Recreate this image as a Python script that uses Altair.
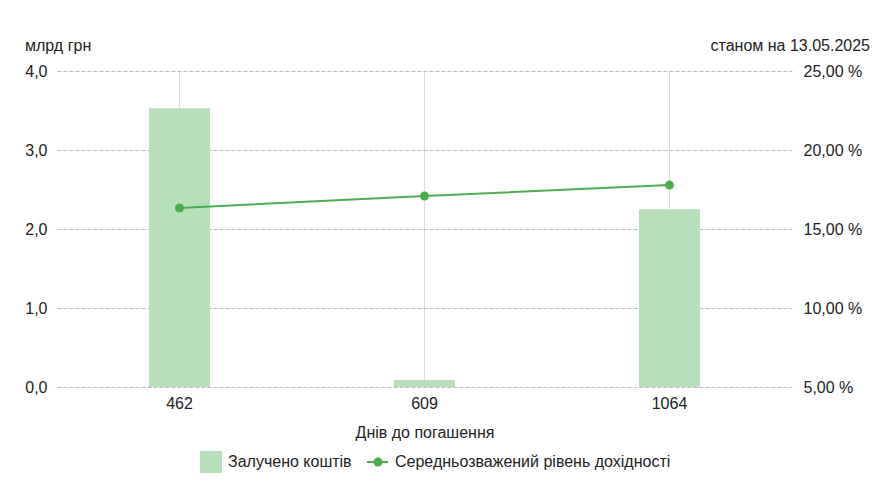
import altair as alt
import pandas as pd

days = ["462", "609", "1064"]
amount = [3.53, 0.09, 2.25]
rate = [16.33, 17.09, 17.78]

legend_bar = "Залучено коштів"
legend_line = "Середньозважений рівень дохідності"
unit_left = "млрд грн"
note_right = "станом на 13.05.2025"
x_title = "Днів до погашення"

df = pd.DataFrame({"days": days, "amount": amount, "rate": rate})

FONT = "Liberation Sans"
BAR = "#b7e0ba"
LINE = "#4aae4f"
TXT = "#222222"

x = alt.X("days:N", sort=days, title=x_title,
          scale=alt.Scale(paddingInner=0, paddingOuter=0),
          axis=alt.Axis(labelAngle=0, grid=True, gridColor="#dddddd", gridDash=[],
                        domain=False, ticks=False, labelPadding=8,
                        labelFontSize=16, labelColor=TXT, labelFont=FONT,
                        titleFontSize=16, titleFont=FONT, titleColor=TXT,
                        titleFontWeight="normal", titlePadding=13))

bars = alt.Chart(df).mark_bar(size=61, color=BAR).encode(
    x=x,
    y=alt.Y("amount:Q", title=None,
            scale=alt.Scale(domain=[0, 4], nice=False),
            axis=alt.Axis(orient="left", values=[0, 1, 2, 3, 4], grid=True,
                          gridColor="#bbbbbb", gridDash=[4, 2], domain=False, ticks=False,
                          labelPadding=10, labelFontSize=16, labelColor=TXT, labelFont=FONT,
                          labelExpr="replace(format(datum.value, '.1f'), '.', ',')")),
)

line_y = alt.Y("rate:Q", title=None,
               scale=alt.Scale(domain=[5, 25], nice=False),
               axis=alt.Axis(orient="right", values=[5, 10, 15, 20, 25], grid=False,
                             domain=False, ticks=False, labelPadding=11,
                             labelFontSize=16, labelColor=TXT, labelFont=FONT,
                             labelExpr="replace(format(datum.value, '.2f'), '.', ',') + ' %'"))

line = alt.Chart(df).mark_line(color=LINE, strokeWidth=2).encode(x=x, y=line_y)
points = alt.Chart(df).mark_point(color=LINE, filled=True, size=80, opacity=1).encode(
    x=x, y=alt.Y("rate:Q", scale=alt.Scale(domain=[5, 25], nice=False), axis=None))

txt = dict(font=FONT, fontSize=16, color=TXT, baseline="middle")
t_left = alt.Chart(df.head(1)).mark_text(align="left", **txt).encode(
    x=alt.value(-32), y=alt.value(-25), text=alt.value(unit_left))
t_right = alt.Chart(df.head(1)).mark_text(align="right", **txt).encode(
    x=alt.value(813), y=alt.value(-25), text=alt.value(note_right))

lg_sq = alt.Chart(df.head(1)).mark_square(size=484, color=BAR, opacity=1, filled=True,
                                          cornerRadius=3).encode(
    x=alt.value(154), y=alt.value(391))
lg_t1 = alt.Chart(df.head(1)).mark_text(align="left", **txt).encode(
    x=alt.value(171), y=alt.value(391), text=alt.value(legend_bar))
lg_rule = alt.Chart(df.head(1)).mark_rule(color=LINE, strokeWidth=2).encode(
    x=alt.value(310), x2=alt.value(331), y=alt.value(391))
lg_pt = alt.Chart(df.head(1)).mark_point(color=LINE, filled=True, size=80, opacity=1).encode(
    x=alt.value(321), y=alt.value(391))
lg_t2 = alt.Chart(df.head(1)).mark_text(align="left", **txt).encode(
    x=alt.value(338), y=alt.value(391), text=alt.value(legend_line))

chart = alt.layer(
    bars, line, points, t_left, t_right, lg_sq, lg_t1, lg_rule, lg_pt, lg_t2
).resolve_scale(y="independent").properties(
    width=735, height=316,
    autosize=alt.AutoSizeParams(type="none"),
    padding={"left": 49, "top": 63, "right": 90, "bottom": 100},
).configure_view(stroke=None)

chart.save("out.html", embed_options={"renderer": "svg", "actions": False})
